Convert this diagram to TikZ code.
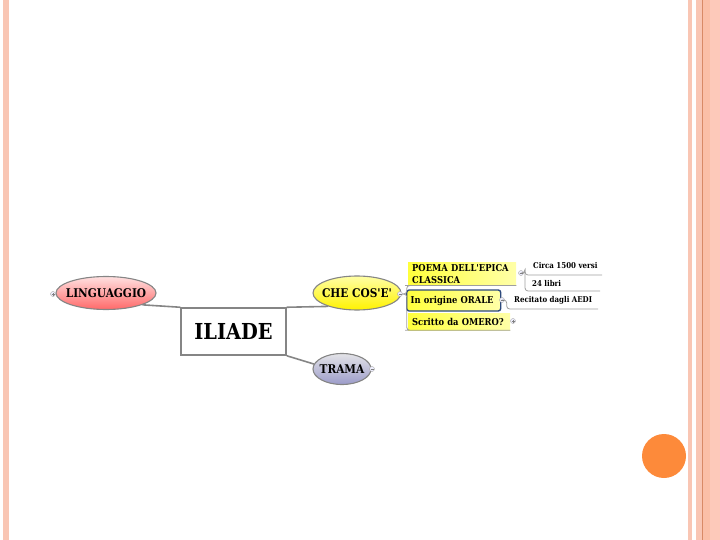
\documentclass[tikz,border=0pt]{standalone}
\usepackage{fontspec}
\newfontfamily\mapfont{DejaVu Serif}[UprightFont={* Bold}, FakeStretch=0.88]
\usetikzlibrary{shapes.geometric}
\definecolor{stripe}{HTML}{F9C6B4}
\definecolor{stripeB}{HTML}{FBBFA7}
\definecolor{stripeC}{HTML}{FDC9BA}
\definecolor{stripeline}{HTML}{D98A66}
\definecolor{dotorange}{HTML}{FD8A3A}
\definecolor{conn}{HTML}{858585}
\definecolor{selblue}{HTML}{2E4A7D}
\definecolor{subyel}{HTML}{FFFF3C}
\definecolor{subyelB}{HTML}{FFFFA8}
\tikzset{
  topic/.style={ellipse, draw=conn, line width=1.1pt, inner xsep=-6pt, inner ysep=0pt, font=\mapfont\fontsize{12}{13}\selectfont},
  sub/.style={rectangle, inner xsep=4pt, inner ysep=2pt, align=left, anchor=west, left color=subyel, right color=subyelB, font=\mapfont\fontsize{9.5}{11.5}\selectfont},
  leaf/.style={rectangle, inner sep=1pt, anchor=west, font=\mapfont\fontsize{8}{9}\selectfont},
  knob/.style={circle, draw=gray!70, fill=blue!6, line width=0.4pt, minimum size=5pt, inner sep=0pt},
  link/.style={draw=conn, line width=1.6pt},
  branch/.style={draw=gray!75, line width=0.8pt, rounded corners=3pt}
}
\begin{document}
\begin{tikzpicture}[x=1pt,y=-1pt]
\useasboundingbox (0,0) rectangle (720,540);
% slide decoration
\fill[stripe] (3,0) rectangle (9,540);
\fill[stripe] (688,0) rectangle (692,540);
\fill[stripe] (696,0) rectangle (702,540);
\fill[stripeB] (703,0) rectangle (710,540);
\fill[stripeC] (710,0) rectangle (720,540);
\fill[stripeline] (702,0) rectangle (703.2,540);
\fill[dotorange] (664,456) circle (22);

% main nodes
\node[draw=conn, line width=1.5pt, minimum width=105pt, minimum height=47pt, font=\mapfont\fontsize{22}{24}\selectfont] (iliade) at (233.5,331.5) {ILIADE};
\node[topic, minimum width=100pt, minimum height=33pt, top color=red!12, bottom color=red!45!pink] (ling) at (106,293) {LINGUAGGIO};
\node[topic, minimum width=88pt, minimum height=34pt, top color=yellow!35, bottom color=yellow!90!orange] (chec) at (357,293) {CHE COS'E'};
\node[topic, minimum width=58pt, minimum height=31pt, top color=blue!8!gray!20, bottom color=blue!30!gray!60] (trama) at (342,369) {TRAMA};

\draw[link] (iliade.north west) -- (ling.-18);
\draw[link] (iliade.north east) -- (chec.205);
\draw[link] (iliade.south east) -- (trama.170);

% knobs
\node[knob] (k0) at (53,294) {};
\node[knob] (k1) at (400,294) {};
\node[knob] (k3) at (372,369) {};

% sub-topics
\node[sub, text width=100pt] (poema) at (408,274) {POEMA DELL'EPICA\\CLASSICA};
\node[sub, draw=selblue, line width=1.4pt, rounded corners=2.5pt, text width=86pt, minimum height=21pt] (orale) at (406,300.5) {In origine ORALE};
\node[sub, minimum height=17pt, text width=94pt] (omero) at (408,321.5) {Scritto da OMERO?};

\draw[branch] (k1.east) -- ++(4,0) |- (poema.south west) -- (poema.south east);
\draw[branch] (k1.east) -- ++(4,0) |- (omero.south west) -- (omero.south east);

\node[knob] (k2) at (521,273) {};
\node[knob] (k4) at (502,300) {};
\node[knob] (k5) at (513,321) {};

% leaves
\node[leaf] (circa) at (532,265.5) {Circa 1500 versi};
\node[leaf] (libri) at (531,283.5) {24 libri};
\node[leaf] (recit) at (513,300.5) {Recitato dagli AEDI};
\coordinate (e1) at (602,275);
\coordinate (e2) at (600,291);
\coordinate (e3) at (598,309);

\draw[branch] (k2.east) -| ([xshift=-7pt]circa.south west) |- (e1);
\draw[branch] (k2.east) -| ([xshift=-7pt]circa.south west) |- (e2);
\draw[branch] (k4.east) -- ++(2,0) |- (e3);

% knob symbols
\foreach \k in {k0,k1,k2,k3,k4,k5} {\draw[gray, line width=0.4pt] ([xshift=-1.5pt]\k.center) -- ([xshift=1.5pt]\k.center);}
\foreach \k in {k0,k5} {\draw[gray, line width=0.4pt] ([yshift=-1.5pt]\k.center) -- ([yshift=1.5pt]\k.center);}
\end{tikzpicture}
\end{document}
